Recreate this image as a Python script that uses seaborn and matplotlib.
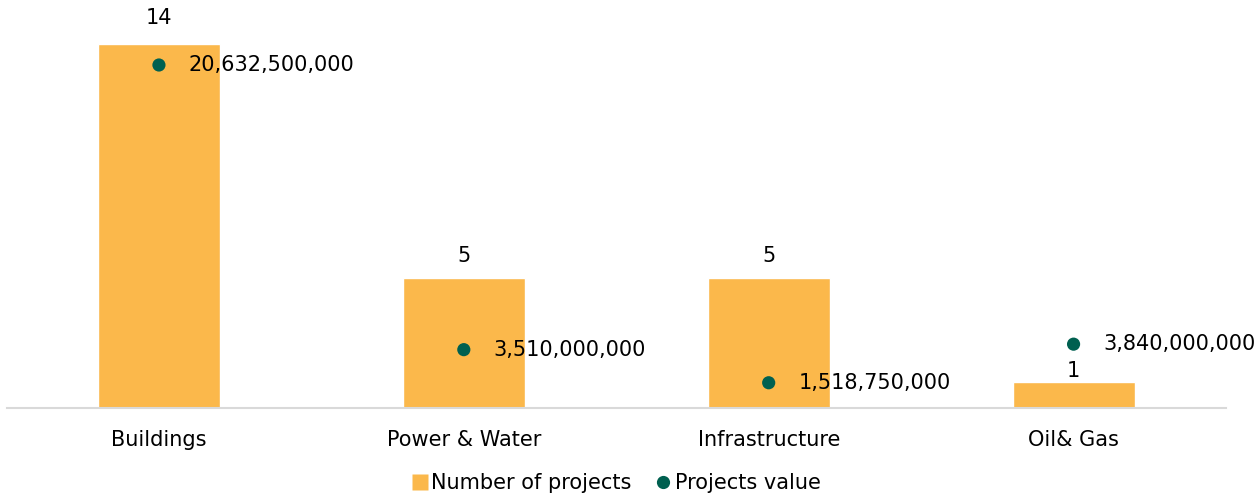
import matplotlib
matplotlib.use("Agg")
import matplotlib.pyplot as plt
import seaborn as sns
import pandas as pd
from matplotlib.lines import Line2D

categories = ["Buildings", "Power & Water", "Infrastructure", "Oil& Gas"]
num_projects = [14, 5, 5, 1]
project_values = [20632500000, 3510000000, 1518750000, 3840000000]

BAR_COLOR = "#FBB84B"
DOT_COLOR = "#006050"

sns.set_theme(style="white")
plt.rcParams["font.family"] = ["DejaVu Sans"]
plt.rcParams["text.color"] = "#000000"

W, H = 1257, 500
FS = 15
fig = plt.figure(figsize=(W / 100, H / 100), dpi=100)
left, right = 6.5, 1226
base_y, top_y = 408, 0
ax = fig.add_axes([left / W, (H - base_y) / H, (right - left) / W, (base_y - top_y) / H])

df = pd.DataFrame({"Category": categories, "Projects": num_projects, "Value": project_values})

sns.barplot(data=df, x="Category", y="Projects", color=BAR_COLOR, width=0.4,
            saturation=1, ax=ax, zorder=2)
ax.set_xlim(-0.5, 3.5)
ax.set_ylim(0, 408 / 26.0)

ax2 = ax.twinx()
sns.scatterplot(data=df, x="Category", y="Value", color=DOT_COLOR, s=90,
                edgecolor="none", ax=ax2, zorder=3)
ax2.set_ylim(0, 408 / (343 / 20.6325) * 1e9)
ax2.set_xlim(-0.5, 3.5)

# bar labels
bar_label_gap = [16, 12, 12, 1]
for i, (v, g) in enumerate(zip(num_projects, bar_label_gap)):
    ax.annotate(f"{v}", (i, v), xytext=(0, g * 0.72), textcoords="offset points",
                ha="center", va="bottom", fontsize=FS, color="#000000")

# value labels
for i, v in enumerate(project_values):
    ax2.annotate(f"{v:,}", (i, v), xytext=(30 * 0.72, 0), textcoords="offset points",
                 ha="left", va="center", fontsize=FS, color="#000000")

for a in (ax, ax2):
    for s in ["top", "right", "left"]:
        a.spines[s].set_visible(False)
    a.set_yticks([])
    a.set_ylabel("")
    a.set_xlabel("")
ax2.spines["bottom"].set_visible(False)
ax.spines["bottom"].set_color("#D9D9D9")
ax.spines["bottom"].set_linewidth(1.5)
ax.tick_params(axis="x", length=0, pad=16, labelsize=FS, labelcolor="#000000")
ax2.tick_params(axis="x", length=0, labelbottom=False)

handles = [
    Line2D([0], [0], marker="s", color="none", markerfacecolor=BAR_COLOR,
           markeredgecolor="none", markersize=11, label="Number of projects"),
    Line2D([0], [0], marker="o", color="none", markerfacecolor=DOT_COLOR,
           markeredgecolor="none", markersize=9.5, label="Projects value"),
]
leg = fig.legend(handles=handles, loc="center", bbox_to_anchor=(615 / W, (H - 483) / H),
                 ncol=2, frameon=False, fontsize=FS, handletextpad=0.05,
                 columnspacing=1.0, handlelength=1.0)
for t in leg.get_texts():
    t.set_color("#000000")

fig.savefig("out.png", dpi=100)
